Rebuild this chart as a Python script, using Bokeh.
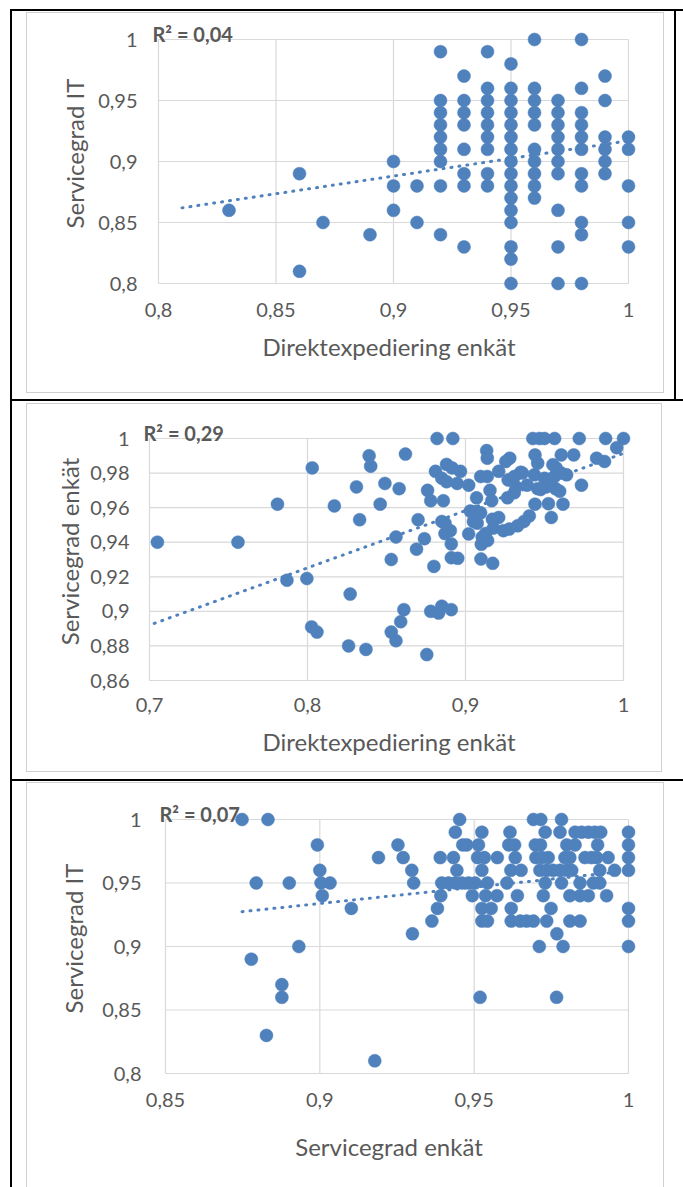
from bokeh.plotting import figure
from bokeh.layouts import column
from bokeh.models import Range1d, FixedTicker, Label
from bokeh.embed import file_html
from bokeh.resources import INLINE

# ---------------- data ----------------
# Panel 1: Direktexpediering enkät (x) vs Servicegrad IT (y)
p1_x = [0.83, 0.86, 0.86, 0.87, 0.89, 0.90, 0.90, 0.90, 0.91, 0.91,
        0.92, 0.92, 0.92, 0.92, 0.92, 0.92, 0.92, 0.92, 0.92,
        0.93, 0.93, 0.93, 0.93, 0.93, 0.93, 0.93, 0.93,
        0.94, 0.94, 0.94, 0.94, 0.94, 0.94, 0.94, 0.94, 0.94,
        0.95, 0.95, 0.95, 0.95, 0.95, 0.95, 0.95, 0.95, 0.95, 0.95, 0.95, 0.95, 0.95, 0.95, 0.95, 0.95,
        0.96, 0.96, 0.96, 0.96, 0.96, 0.96, 0.96, 0.96, 0.96, 0.96,
        0.97, 0.97, 0.97, 0.97, 0.97, 0.97, 0.97, 0.97, 0.97, 0.97,
        0.98, 0.98, 0.98, 0.98, 0.98, 0.98, 0.98, 0.98, 0.98, 0.98, 0.98,
        0.99, 0.99, 0.99, 0.99, 0.99, 0.99,
        1.00, 1.00, 1.00, 1.00, 1.00]
p1_y = [0.86, 0.89, 0.81, 0.85, 0.84, 0.90, 0.88, 0.86, 0.88, 0.85,
        0.99, 0.95, 0.94, 0.93, 0.92, 0.91, 0.90, 0.88, 0.84,
        0.97, 0.95, 0.94, 0.93, 0.91, 0.89, 0.88, 0.83,
        0.99, 0.96, 0.95, 0.94, 0.93, 0.92, 0.91, 0.89, 0.88,
        0.98, 0.96, 0.95, 0.94, 0.93, 0.92, 0.91, 0.90, 0.89, 0.88, 0.87, 0.86, 0.85, 0.83, 0.82, 0.80,
        1.00, 0.96, 0.95, 0.94, 0.93, 0.91, 0.90, 0.89, 0.88, 0.87,
        0.95, 0.94, 0.93, 0.92, 0.91, 0.90, 0.89, 0.86, 0.83, 0.80,
        1.00, 0.96, 0.94, 0.93, 0.92, 0.91, 0.89, 0.88, 0.85, 0.84, 0.80,
        0.97, 0.95, 0.92, 0.91, 0.90, 0.89,
        0.92, 0.91, 0.88, 0.85, 0.83]
p1_trend_x = [0.81, 1.0]
p1_trend_y = [0.862, 0.917]
p1_xticks = [0.8, 0.85, 0.9, 0.95, 1.0]
p1_xlabels = ["0,8", "0,85", "0,9", "0,95", "1"]
p1_yticks = [0.8, 0.85, 0.9, 0.95, 1.0]
p1_ylabels = ["0,8", "0,85", "0,9", "0,95", "1"]
p1_r2 = "R² = 0,04"
p1_xtitle = "Direktexpediering enkät"
p1_ytitle = "Servicegrad IT"

# Panel 2: Direktexpediering enkät (x) vs Servicegrad enkät (y)
p2_x = [0.705, 0.756, 0.781, 0.787, 0.7996, 0.803, 0.8026, 0.806, 0.817, 0.826,
        0.827, 0.831, 0.833, 0.837, 0.839, 0.840, 0.846, 0.849, 0.853, 0.853,
        0.856, 0.856, 0.858, 0.859, 0.861, 0.862, 0.869, 0.870, 0.874, 0.8755,
        0.876, 0.878, 0.878, 0.880, 0.881, 0.882, 0.883, 0.885, 0.885, 0.886,
        0.885, 0.887, 0.888, 0.888, 0.887, 0.891, 0.891, 0.891, 0.892, 0.8915,
        0.8947, 0.8968, 0.8904, 0.8951,
        0.902, 0.907, 0.9166, 0.903, 0.9064, 0.9096, 0.905, 0.9074, 0.917, 0.921,
        0.902, 0.910, 0.914, 0.9106, 0.9128, 0.9177, 0.9098, 0.9172, 0.924, 0.9277,
        0.933, 0.937, 0.9404, 0.944, 0.9525, 0.9617, 0.9543, 0.9266, 0.9309, 0.9155,
        0.927, 0.932, 0.939, 0.9457, 0.951, 0.957, 0.9596, 0.9734, 0.9096, 0.9138,
        0.921, 0.9309, 0.936, 0.9436, 0.950, 0.9564, 0.9606, 0.9134, 0.9138, 0.928,
        0.9255, 0.944, 0.9606, 0.9685, 0.9457, 0.9553, 0.9574, 0.9426, 0.9468, 0.950,
        0.9564, 0.972, 0.9887, 1.0, 0.9957, 0.983, 0.988, 0.964, 0.9476, 0.9545,
        0.935]
p2_y = [0.940, 0.940, 0.962, 0.918, 0.919, 0.983, 0.891, 0.888, 0.961, 0.880,
        0.910, 0.972, 0.953, 0.878, 0.990, 0.984, 0.962, 0.974, 0.930, 0.888,
        0.883, 0.943, 0.971, 0.894, 0.901, 0.991, 0.936, 0.953, 0.942, 0.875,
        0.970, 0.964, 0.900, 0.926, 0.981, 1.000, 0.899, 0.903, 0.977, 0.964,
        0.952, 0.951, 0.975, 0.985, 0.945, 0.939, 0.931, 0.901, 1.000, 0.983,
        0.974, 0.981, 0.9467, 0.9307,
        0.973, 0.9657, 0.964, 0.958, 0.9577, 0.957, 0.952, 0.951, 0.9533, 0.9543,
        0.9448, 0.9388, 0.941, 0.9429, 0.9451, 0.9482, 0.9303, 0.9278, 0.9467, 0.9476,
        0.9495, 0.952, 0.9552, 0.962, 0.9623, 0.962, 0.9543, 0.9657, 0.9686, 0.970,
        0.976, 0.972, 0.973, 0.971, 0.972, 0.971, 0.9695, 0.973, 0.978, 0.978,
        0.981, 0.978, 0.980, 0.979, 0.977, 0.978, 0.980, 0.993, 0.9886, 0.9886,
        0.9867, 0.9905, 0.9905, 0.9905, 0.9857, 0.9848, 0.983, 1.0, 1.0, 1.0,
        1.0, 1.0, 1.0, 1.0, 0.9947, 0.9886, 0.9867, 0.979, 0.9705, 0.9767,
        0.9805]
p2_trend_x = [0.703, 1.0]
p2_trend_y = [0.893, 0.9914]
p2_xticks = [0.7, 0.8, 0.9, 1.0]
p2_xlabels = ["0,7", "0,8", "0,9", "1"]
p2_yticks = [0.86, 0.88, 0.9, 0.92, 0.94, 0.96, 0.98, 1.0]
p2_ylabels = ["0,86", "0,88", "0,9", "0,92", "0,94", "0,96", "0,98", "1"]
p2_r2 = "R² = 0,29"
p2_xtitle = "Direktexpediering enkät"
p2_ytitle = "Servicegrad enkät"

# Panel 3: Servicegrad enkät (x) vs Servicegrad IT (y)
p3_x = [0.8748, 0.8832, 0.9453, 0.9692, 0.9716, 0.9783,
        0.9439, 0.9525, 0.9616, 0.9730, 0.9778, 0.9827, 0.9848, 0.9870, 0.9891, 0.9910, 1.0,
        0.8992, 0.9253, 0.9463, 0.9476, 0.9514, 0.9612, 0.9631, 0.9698, 0.9715, 0.9800, 0.9827, 0.9900, 1.0,
        0.9190, 0.9270, 0.9390, 0.9433, 0.9511, 0.9533, 0.9575, 0.9633, 0.9700, 0.9719, 0.9740, 0.9794,
        0.9810, 0.9859, 0.9880, 0.9897, 0.9934, 1.0,
        0.9000, 0.9298, 0.9444, 0.9525, 0.9619, 0.9652, 0.9713, 0.9735, 0.9756, 0.9778, 0.9800, 0.9816,
        0.9907, 0.9955, 1.0,
        0.8794, 0.8901, 0.9004, 0.9033, 0.9304, 0.9395, 0.9417, 0.9439, 0.9460, 0.9482, 0.9503, 0.9543,
        0.9606, 0.9730, 0.9783, 0.9843, 0.9886, 0.9907,
        0.9008, 0.9392, 0.9494, 0.9537, 0.9574, 0.9640, 0.9724, 0.9810, 0.9843, 0.9870, 0.9929,
        0.9102, 0.9381, 0.9525, 0.9555, 0.9620, 0.9749, 1.0,
        0.9363, 0.9525, 0.9543, 0.9620, 0.9649, 0.9670, 0.9692, 0.9735, 0.9810, 0.9843, 1.0,
        0.9300, 0.9768,
        0.8932, 0.9711, 0.9788, 1.0,
        0.8778, 0.8877, 0.8877, 0.9519, 0.9767, 0.8827, 0.9178]
p3_y = [1.00, 1.00, 1.00, 1.00, 1.00, 1.00,
        0.99, 0.99, 0.99, 0.99, 0.99, 0.99, 0.99, 0.99, 0.99, 0.99, 0.99,
        0.98, 0.98, 0.98, 0.98, 0.98, 0.98, 0.98, 0.98, 0.98, 0.98, 0.98, 0.98, 0.98,
        0.97, 0.97, 0.97, 0.97, 0.97, 0.97, 0.97, 0.97, 0.97, 0.97, 0.97, 0.97,
        0.97, 0.97, 0.97, 0.97, 0.97, 0.97,
        0.96, 0.96, 0.96, 0.96, 0.96, 0.96, 0.96, 0.96, 0.96, 0.96, 0.96, 0.96,
        0.96, 0.96, 0.96,
        0.95, 0.95, 0.95, 0.95, 0.95, 0.95, 0.95, 0.95, 0.95, 0.95, 0.95, 0.95,
        0.95, 0.95, 0.95, 0.95, 0.95, 0.95,
        0.94, 0.94, 0.94, 0.94, 0.94, 0.94, 0.94, 0.94, 0.94, 0.94, 0.94,
        0.93, 0.93, 0.93, 0.93, 0.93, 0.93, 0.93,
        0.92, 0.92, 0.92, 0.92, 0.92, 0.92, 0.92, 0.92, 0.92, 0.92, 0.92,
        0.91, 0.91,
        0.90, 0.90, 0.90, 0.90,
        0.89, 0.87, 0.86, 0.86, 0.86, 0.83, 0.81]
p3_trend_x = [0.8748, 1.0]
p3_trend_y = [0.9274, 0.9595]
p3_xticks = [0.85, 0.9, 0.95, 1.0]
p3_xlabels = ["0,85", "0,9", "0,95", "1"]
p3_yticks = [0.8, 0.85, 0.9, 0.95, 1.0]
p3_ylabels = ["0,8", "0,85", "0,9", "0,95", "1"]
p3_r2 = "R² = 0,07"
p3_xtitle = "Servicegrad enkät"
p3_ytitle = "Servicegrad IT"

# ---------------- style ----------------
W = 683
FL, FR = 141, 636          # common frame edges (the column aligns frames)
PADT, PADB = 24, 8
FONT = "Lato"
BLUE = "#4F81BD"
GRID = "#D9D9D9"
TXT = "#595959"


def css_rects(rects):
    """Decorative table/chart-area lines painted as CSS background layers."""
    layers = ["linear-gradient(%s,%s) %dpx %dpx / %dpx %dpx no-repeat" % (c, c, l, t, w, h)
              for (l, t, w, h, c) in rects]
    return {"background": ", ".join(layers) + ", white"}


def make_panel(height, box, xs, ys, tx, ty, xticks, xlabels, yticks, ylabels,
               r2, xtitle, ytitle, ystand, xstand, ytitle_stand, xtitle_stand, deco):
    bl, br, bt, bb = box
    padl, padr = bl - FL, FR - br
    xlo, xhi = xticks[0], xticks[-1]
    ylo, yhi = yticks[0], yticks[-1]
    ux = (xhi - xlo) / (br - bl)
    uy = (yhi - ylo) / (bb - bt)
    ft, fb = bt - PADT, bb + PADB
    p = figure(frame_width=FR - FL, frame_height=fb - ft,
               x_range=Range1d(xlo - padl * ux, xhi + padr * ux),
               y_range=Range1d(ylo - PADB * uy, yhi + PADT * uy),
               output_backend="svg", toolbar_location=None,
               min_border_left=FL, min_border_right=W - FR,
               min_border_top=ft, min_border_bottom=height - fb,
               styles=css_rects(deco))
    p.outline_line_color = None
    p.background_fill_color = None
    p.border_fill_color = None
    p.xgrid.visible = False
    p.ygrid.visible = False

    # grid lines limited to the tick span
    p.segment(x0=xticks, y0=[ylo] * len(xticks), x1=xticks, y1=[yhi] * len(xticks),
              line_color=GRID, line_width=1.2)
    p.segment(x0=[xlo] * len(yticks), y0=yticks, x1=[xhi] * len(yticks), y1=yticks,
              line_color=GRID, line_width=1.2)

    p.line(tx, ty, line_color=BLUE, line_width=3, line_dash="1 7", line_cap="round")
    p.scatter(xs, ys, size=13, fill_color=BLUE, line_color=BLUE, line_width=0.5)

    for ax, ticks, labels, stand, title, tstand in (
            (p.xaxis[0], xticks, xlabels, xstand, xtitle, xtitle_stand),
            (p.yaxis[0], yticks, ylabels, ystand, ytitle, ytitle_stand)):
        ax.ticker = FixedTicker(ticks=ticks)
        ax.major_label_overrides = {t: l for t, l in zip(ticks, labels)}
        ax.axis_line_color = None
        ax.major_tick_line_color = None
        ax.minor_tick_line_color = None
        ax.major_tick_out = 0
        ax.major_tick_in = 0
        ax.major_label_text_font = FONT
        ax.major_label_text_font_size = "20px"
        ax.major_label_text_color = TXT
        ax.major_label_standoff = stand
        ax.axis_label = title
        ax.axis_label_text_font = FONT
        ax.axis_label_text_font_size = "24px"
        ax.axis_label_text_font_style = "normal"
        ax.axis_label_text_color = TXT
        ax.axis_label_standoff = tstand

    p.add_layout(Label(x=xlo, y=yhi, x_offset=-6, y_offset=6, text=r2,
                       text_font=FONT, text_font_style="bold", text_font_size="20px",
                       text_color=TXT, text_baseline="middle", text_align="left"))
    return p


K = "black"
G = "#D0D0D0"
deco1 = [(10, 9, 673, 2, K), (10, 9, 2, 390, K), (674, 9, 2, 390, K),
         (26, 12, 638, 1, G), (26, 392, 638, 1, G), (26, 12, 1, 381, G), (663, 12, 1, 381, G)]
deco2 = [(10, 0, 673, 2, K), (10, 0, 2, 380, K),
         (26, 4, 636, 1, G), (26, 372, 636, 1, G), (26, 4, 1, 369, G), (661, 4, 1, 369, G)]
deco3 = [(10, 0, 673, 2, K), (10, 0, 2, 408, K),
         (26, 3, 638, 1, G), (26, 3, 1, 405, G), (663, 3, 1, 405, G)]

f1 = make_panel(399, (158, 628, 39, 283), p1_x, p1_y, p1_trend_x, p1_trend_y,
                p1_xticks, p1_xlabels, p1_yticks, p1_ylabels,
                p1_r2, p1_xtitle, p1_ytitle, 4, 11, 6, 12, deco1)
f2 = make_panel(380, (149, 623, 39, 281), p2_x, p2_y, p2_trend_x, p2_trend_y,
                p2_xticks, p2_xlabels, p2_yticks, p2_ylabels,
                p2_r2, p2_xtitle, p2_ytitle, 12, 9, 3, 12, deco2)
f3 = make_panel(408, (165, 628, 40, 294), p3_x, p3_y, p3_trend_x, p3_trend_y,
                p3_xticks, p3_xlabels, p3_yticks, p3_ylabels,
                p3_r2, p3_xtitle, p3_ytitle, 0, 11, 11, 22, deco3)

layout = column(f1, f2, f3, spacing=0)
open("out.html", "w").write(file_html(layout, INLINE))
